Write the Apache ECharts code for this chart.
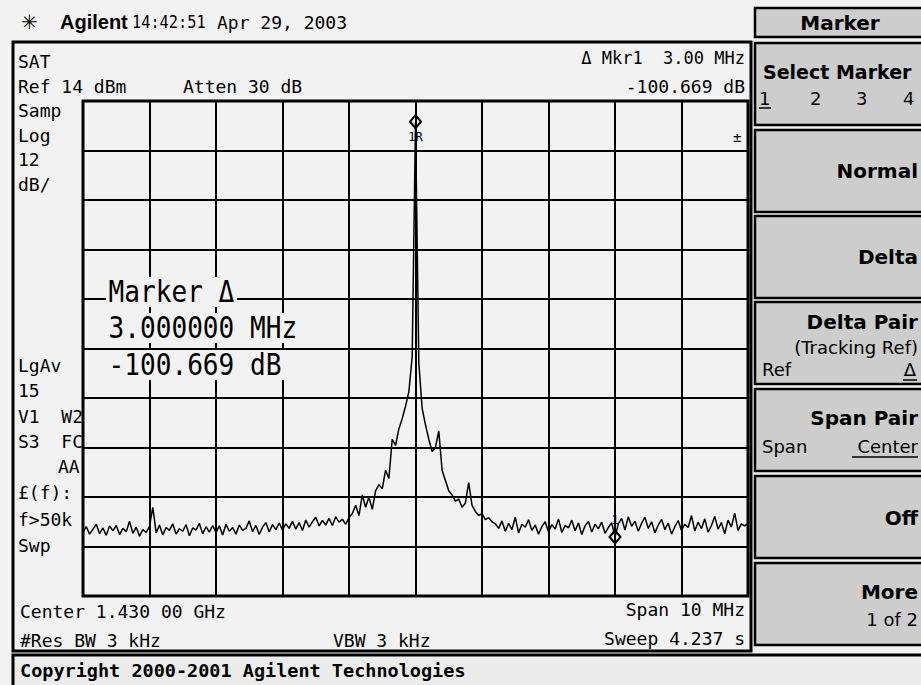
<!DOCTYPE html>
<html>
<head>
<meta charset="utf-8">
<script src="https://cdn.jsdelivr.net/npm/echarts@6.0.0/dist/echarts.min.js"></script>
<style>
  html, body { margin: 0; padding: 0; background: #f2f2f2; }
  #chart { width: 921px; height: 685px; }
</style>
</head>
<body>
<div id="chart"></div>
<script>
// Sweep setup
const centerMHz = 1430;
const spanMHz = 10;
const refLevelDbm = 14;
const dbPerDiv = 12;
const divisions = 10;
const traceStartMHz = 1425;
const traceStepMHz = 0.05;

// Trace amplitudes in dBm, one per sweep point (201 points across the span)
const traceDbm = [
  -90.5, -89.2, -91.0, -89.8, -88.6, -90.9, -89.5, -91.3, -89.0, -90.2,
  -88.9, -91.1, -89.6, -90.4, -87.9, -90.8, -89.3, -91.5, -89.9, -90.6,
  -89.1, -84.5, -90.7, -88.8, -91.2, -89.4, -90.1, -88.5, -91.0, -89.7,
  -90.3, -88.7, -91.4, -89.5, -90.0, -88.4, -90.9, -89.2, -90.5, -88.9,
  -90.6, -89.0, -91.2, -88.6, -90.3, -89.4, -91.0, -88.8, -90.1, -89.6,
  -87.8, -90.4, -88.9, -91.1, -89.3, -88.2, -90.5, -88.7, -89.9, -88.3,
  -90.0, -88.5, -89.6, -87.9, -89.8, -88.2, -90.1, -87.6, -89.3, -88.0,
  -86.9, -89.0, -87.7, -88.8, -87.2, -88.9, -86.8, -88.1, -87.4, -88.6,
  -87.0, -86.0, -84.0, -86.5, -81.5, -84.5, -82.0, -85.0, -80.5, -79.0,
  -80.0, -75.5, -77.5, -68.0, -69.5, -65.5, -63.0, -60.0, -56.5, -48.0,
  9.0,
  -49.5, -60.5, -64.5, -68.0, -71.0, -70.0, -66.0, -75.5, -78.0, -80.5,
  -81.5, -83.0, -82.5, -84.5, -83.5, -78.5, -84.0, -85.5, -86.5, -86.0,
  -87.5, -87.0, -88.0, -88.5,
  -89.6, -87.8, -90.3, -88.4, -89.9, -86.9, -90.7, -88.6, -89.3, -87.5,
  -90.1, -88.8, -91.0, -89.2, -88.0, -90.4, -88.7, -89.8, -87.3, -90.6,
  -88.9, -89.5, -87.6, -90.2, -88.3, -91.1, -89.0, -87.9, -90.5, -88.6,
  -89.7, -88.1, -90.8, -89.4, -88.2,
  -91.7,
  -88.5, -87.2, -90.0, -86.8, -89.1, -87.9, -90.3, -88.4, -86.9, -89.6,
  -88.0, -90.7, -88.8, -87.4, -89.9, -88.3, -91.0, -89.2, -87.7, -90.1,
  -88.6, -89.4, -86.5, -90.2, -88.1, -89.7, -87.3, -90.5, -88.9, -86.7,
  -89.8, -88.2, -90.9, -87.6, -89.3, -85.9, -90.1, -88.5, -89.0, -88.4
];

// Markers: reference marker on the carrier, delta marker 3 MHz above it
const refMarkerMHz = 1430;
const deltaMarkerMHz = 1433;
const deltaMarkerDb = -100.669;

// Screen annotations
const headerTime = '14:42:51';
const headerDate = 'Apr 29, 2003';
const leftAnnotTop = ['Samp', 'Log', '12', 'dB/'];
const leftAnnotTopY = [110, 135, 159, 184];
const leftAnnotLow = ['LgAv', '15', 'V1  W2', 'S3  FC', '', '£(f):', 'f>50k', 'Swp'];
const leftAnnotLowY = [365, 390, 416, 441, 466, 492, 519, 545];
const markerReadout = ['Marker Δ', '3.000000 MHz', '-100.669 dB'];
const markerReadoutY = [292, 328, 365];

// Softkey menu
const softkeyTops = [43, 130, 216, 302, 389, 476, 563];

// ---------------------------------------------------------------------------
const ink = '#000';
const screenBg = '#f2f2f2';
const keyBg = '#cdcdcd';
const mono = '"DejaVu Sans Mono", monospace';
const sans = '"DejaVu Sans", sans-serif';

const refIndex = Math.round((refMarkerMHz - traceStartMHz) / traceStepMHz);
const refMarkerDbm = traceDbm[refIndex];
const deltaMarkerDbm = refMarkerDbm + deltaMarkerDb;

const traceData = traceDbm.map((v, i) => [traceStartMHz + i * traceStepMHz, v - refLevelDbm]);

function text(x, y, s, o) {
  o = o || {};
  return {
    type: 'text', x: x, y: y, z: o.z || 20,
    scaleX: o.scaleX || 1,
    style: {
      text: s,
      x: 0, y: 0,
      fill: ink,
      font: o.font || ('18px ' + mono),
      align: o.align || 'left',
      verticalAlign: 'middle',
      backgroundColor: o.bg,
      padding: o.bg ? [0, 3] : 0
    }
  };
}
function rect(x, y, w, h, fill, lw) {
  return { type: 'rect', z: 1, shape: { x: x, y: y, width: w, height: h },
           style: { fill: fill, stroke: ink, lineWidth: lw } };
}
function line(x1, y1, x2, y2, lw) {
  return { type: 'line', z: 21, shape: { x1: x1, y1: y1, x2: x2, y2: y2 },
           style: { stroke: ink, lineWidth: lw } };
}

const g = [];
// display frame and copyright strip
g.push(rect(13, 42, 738, 609, 'rgba(0,0,0,0)', 3));
g.push(rect(13, 655, 930, 40, '#ececec', 3));
g.push(text(20, 670, 'Copyright 2000-2001 Agilent Technologies', { font: 'bold 18.5px ' + mono }));

// header line
g.push(text(21, 22, '✳', { font: '20px ' + sans }));
g.push(text(60, 22, 'Agilent', { font: 'bold 20px "Liberation Sans", sans-serif' }));
g.push(text(132, 22, headerTime, { scaleX: 0.85 }));
g.push(text(217, 22, headerDate));

// top annotations
g.push(text(18, 61, 'SAT'));
g.push(text(18, 86, 'Ref ' + refLevelDbm + ' dBm'));
g.push(text(183, 86, 'Atten 30 dB'));
g.push(text(745, 58, 'Δ Mkr1  3.00 MHz', { align: 'right', font: '17px ' + mono }));
g.push(text(745, 86, deltaMarkerDb.toFixed(3) + ' dB', { align: 'right' }));

leftAnnotTop.forEach((s, i) => g.push(text(18, leftAnnotTopY[i], s)));
leftAnnotLow.forEach((s, i) => { if (s) g.push(text(18, leftAnnotLowY[i], s)); });
g.push(text(58, leftAnnotLowY[4], 'AA'));

// trace indicator at the top right of the graticule
g.push(text(733, 137, '±', { font: '14px ' + mono }));

// large marker readout over the graticule
markerReadout.forEach((s, i) => g.push(text(106, markerReadoutY[i], s,
  { font: '30px ' + mono, scaleX: 0.87, bg: screenBg })));

// bottom annotations
g.push(text(20, 611, 'Center 1.430 00 GHz'));
g.push(text(20, 640, '#Res BW 3 kHz'));
g.push(text(333, 640, 'VBW 3 kHz'));
g.push(text(745, 609, 'Span ' + spanMHz + ' MHz', { align: 'right' }));
g.push(text(745, 638, 'Sweep 4.237 s', { align: 'right' }));

// softkey panel
g.push(rect(755, 8, 180, 29, keyBg, 2.5));
g.push(text(840, 23, 'Marker', { font: 'bold 20px ' + sans, align: 'center' }));
softkeyTops.forEach(t => g.push(rect(755, t, 180, 82, keyBg, 2.5)));
const kb = 'bold 20px ' + sans, kr = '18px ' + sans, R = 918;
g.push(text(763, 72, 'Select Marker', { font: 'bold 19px ' + sans }));
g.push(text(759, 98, '1', { font: kr }));
g.push(text(810, 98, '2', { font: kr }));
g.push(text(856, 98, '3', { font: kr }));
g.push(text(903, 98, '4', { font: kr }));
g.push(line(759, 108, 771, 108, 1.5));
g.push(text(R, 171, 'Normal', { font: kb, align: 'right' }));
g.push(text(R, 257, 'Delta', { font: kb, align: 'right' }));
g.push(text(R, 322, 'Delta Pair', { font: kb, align: 'right' }));
g.push(text(R, 347, '(Tracking Ref)', { font: kr, align: 'right' }));
g.push(text(762, 369, 'Ref', { font: kr }));
g.push(text(R - 2, 369, 'Δ', { font: kr, align: 'right' }));
g.push(line(903, 380, 917, 380, 1.5));
g.push(text(R, 418, 'Span Pair', { font: kb, align: 'right' }));
g.push(text(762, 446, 'Span', { font: kr }));
g.push(text(R, 446, 'Center', { font: kr, align: 'right' }));
g.push(line(852, 457, 918, 457, 1.5));
g.push(text(R, 518, 'Off', { font: kb, align: 'right' }));
g.push(text(R, 592, 'More', { font: kb, align: 'right' }));
g.push(text(R, 619, '1 of 2', { font: kr, align: 'right' }));

const chart = echarts.init(document.getElementById('chart'), null, { renderer: 'svg' });
chart.setOption({
  backgroundColor: screenBg,
  animation: false,
  grid: {
    left: 83, top: 101, width: 665, height: 495,
    show: true, borderColor: ink, borderWidth: 3, backgroundColor: 'transparent'
  },
  xAxis: {
    type: 'value',
    min: centerMHz - spanMHz / 2, max: centerMHz + spanMHz / 2, interval: spanMHz / divisions,
    axisLine: { show: false }, axisTick: { show: false }, axisLabel: { show: false },
    splitLine: { show: true, lineStyle: { color: ink, width: 2 } }
  },
  yAxis: {
    type: 'value',
    min: -dbPerDiv * divisions, max: 0, interval: dbPerDiv,
    axisLine: { show: false }, axisTick: { show: false }, axisLabel: { show: false },
    splitLine: { show: true, lineStyle: { color: ink, width: 2 } }
  },
  series: [{
    type: 'line',
    data: traceData,
    symbol: 'none',
    z: 3,
    lineStyle: { color: ink, width: 1.5 },
    markPoint: {
      symbol: 'diamond',
      symbolSize: [11, 13],
      itemStyle: { color: 'rgba(0,0,0,0)', borderColor: ink, borderWidth: 2 },
      data: [
        { coord: [refMarkerMHz, refMarkerDbm - refLevelDbm],
          label: { show: true, formatter: '1R', position: 'bottom', distance: 2,
                   color: ink, fontSize: 12, fontFamily: 'DejaVu Sans Mono' } },
        { coord: [deltaMarkerMHz, deltaMarkerDbm - refLevelDbm],
          label: { show: true, formatter: '1', position: 'top', distance: 3,
                   color: ink, fontSize: 12, fontFamily: 'DejaVu Sans Mono' } }
      ]
    }
  }],
  graphic: g
});
</script>
</body>
</html>
